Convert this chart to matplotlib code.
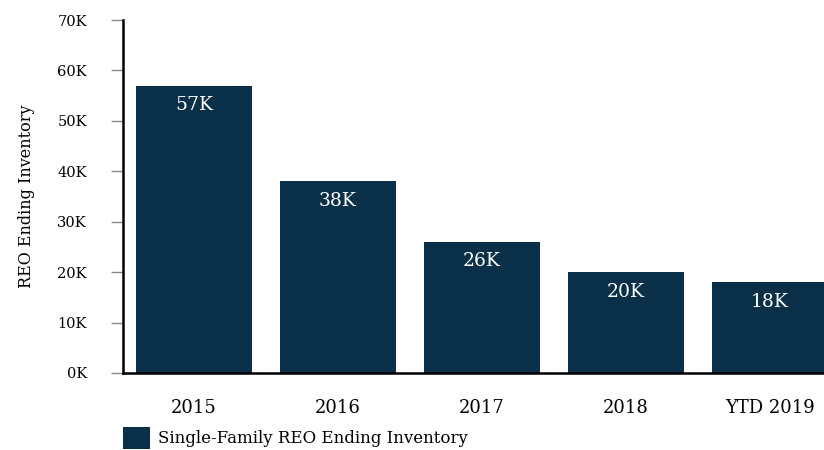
import matplotlib.pyplot as plt
import numpy as np

plt.rcParams['font.family'] = ['DejaVu Serif']

categories = ['2015', '2016', '2017', '2018', 'YTD 2019']
inventory = [57, 38, 26, 20, 18]  # thousands
bar_labels = ['57K', '38K', '26K', '20K', '18K']
yticks = [0, 10, 20, 30, 40, 50, 60, 70]
ytick_labels = ['0K', '10K', '20K', '30K', '40K', '50K', '60K', '70K']
navy = '#0a3049'

fig = plt.figure(figsize=(8.24, 4.5), dpi=100)
ax = fig.add_axes([123/824, 77/450, 701/824, 353/450])

x = np.arange(len(categories))
bars = ax.bar(x, inventory, width=0.8, color=navy, label='Single-Family REO Ending Inventory')

for b, lab in zip(bars, bar_labels):
    ax.annotate(lab, (b.get_x() + b.get_width()/2, b.get_height()),
                xytext=(0, -14), textcoords='offset points',
                ha='center', va='center', color='white', fontsize=13.5)

ax.set_xlim(-0.493, 4.375)
ax.set_ylim(0, 70)
ax.set_yticks(yticks)
ax.set_yticklabels(ytick_labels, fontsize=10.5)
ax.set_xticks(x)
ax.set_xticklabels(categories, fontsize=13)
ax.tick_params(axis='y', length=9, width=1, color='#888888', pad=17)
ax.tick_params(axis='x', length=0, pad=19)
ax.set_ylabel('REO Ending Inventory', fontsize=11.5)
ax.yaxis.set_label_coords(-88/701, 0.5)

for s in ['top', 'right']:
    ax.spines[s].set_visible(False)
ax.spines['left'].set_linewidth(1.8)
ax.spines['bottom'].set_linewidth(1.8)

fig.legend(loc='center left', bbox_to_anchor=(123/824, 12/450), frameon=False,
           fontsize=12, handlelength=1.62, handleheight=1.7, handletextpad=0.48,
           borderpad=0, borderaxespad=0)

fig.savefig('out.png', dpi=100)
